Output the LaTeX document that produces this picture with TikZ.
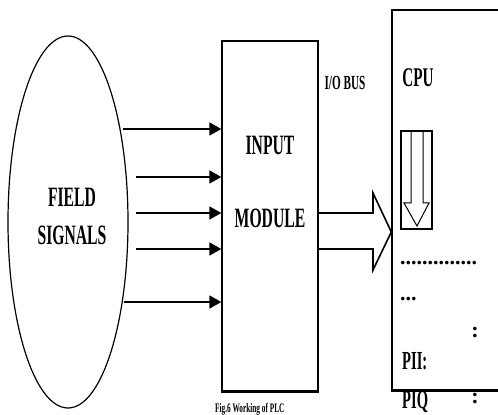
\documentclass[tikz,border=0pt]{standalone}
\usepackage{fontspec}
\setmainfont{Liberation Serif}
\newfontfamily\condfont[FakeStretch=0.56]{Liberation Serif}
\usetikzlibrary{arrows.meta, positioning, shapes.geometric}

\begin{document}
\begin{tikzpicture}[x=1pt, y=1pt,
		block/.style={draw=black, line width=1.4pt, inner sep=0pt},
		lbl/.style={font=\condfont\bfseries\fontsize{28}{30}\selectfont, inner sep=0pt, align=center},
		small/.style={font=\condfont\bfseries\fontsize{20}{22}\selectfont, inner sep=0pt},
		dotfont/.style={font=\bfseries\fontsize{22}{24}\selectfont, inner sep=0pt},
		sig/.style={-{Triangle[length=12pt, width=13pt]}, line width=1.8pt},
		hollow/.style={draw=black, line width=1.6pt, line join=miter}
	]
		\useasboundingbox (0,0) rectangle (498,415);
		% field side
		\node[draw=black, line width=1.2pt, ellipse, minimum width=120pt, minimum height=372pt, inner sep=0pt] (field) at (68,193) {};
		\node[lbl] (fieldtxt) at (72,199) {FIELD\\[8pt]SIGNALS};
		% input module
		\node[block, minimum width=96pt, minimum height=350pt] (module) at (270,199) {};
		\draw[line width=2.6pt] (module.south west) -- (module.south east);
		\node[lbl] (inp) at (270,270) {INPUT};
		\node[lbl] (mod) at (270,197) {MODULE};
		\node[small] (bus) at (345,332) {I/O BUS};
		% cpu
		\node[block, minimum width=118pt, minimum height=380pt] (cpu) at (451,215) {};
		\draw[line width=2.6pt] (cpu.south west) -- (cpu.south east);
		\node[lbl, font=\condfont\bfseries\fontsize{27}{30}\selectfont] (cputxt) at (418,337) {CPU};
		\node[block, line width=1.6pt, minimum width=31pt, minimum height=98pt] (img) at (416.5,235) {};
		\draw[hollow, line width=1pt] (411,284) -- (411,212) -- (404,212) -- (417,189)
			-- (429,212) -- (423,212) -- (423,284);
		\node[dotfont, anchor=west] (dots) at (400,152) {..............};
		\node[dotfont, anchor=west] (dots2) at (400,116) {...};
		\node[dotfont] (col1) at (475,82) {:};
		\node[lbl, font=\condfont\bfseries\fontsize{26}{28}\selectfont, anchor=base west] (pii) at (402,45) {PII:};
		\node[lbl, font=\condfont\bfseries\fontsize{26}{28}\selectfont, anchor=base west] (piq) at (402,6) {PIQ};
		\node[dotfont] (col2) at (475,16) {:};
		% signals into module
		\foreach \x/\y in {123/286, 136/238, 136/202, 136/166, 124/113}
			\draw[sig] (\x,\y) -- (module.west |- \x,\y);
		% i/o bus arrow
		\draw[hollow] (module.east |- 0,202) -- (373,202) -- (373,222) -- (cpu.west |- 0,183)
			-- (373,145) -- (373,166) -- (module.east |- 0,166);
		\node[small, font=\condfont\bfseries\fontsize{13}{14}\selectfont, anchor=base west] (cap) at (215,2) {Fig.6 Working of PLC};
	\end{tikzpicture}
\end{document}
